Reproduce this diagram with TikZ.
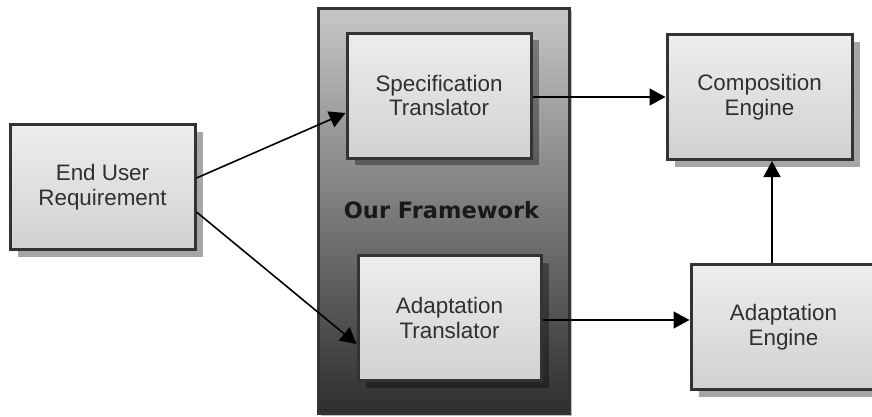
\documentclass[tikz,border=0pt]{standalone}
\usepackage{fontspec}
\setmainfont{Liberation Sans}
\newfontfamily\headfont{DejaVu Sans}
\usetikzlibrary{arrows.meta,shadows}
\definecolor{txt}{HTML}{303030}
\definecolor{edge}{HTML}{333333}
\tikzset{
  block/.style={draw=edge, line width=3pt, top color=white!93!black, bottom color=white!82!black,
    minimum width=#1, minimum height=125pt, align=center, text=txt,
    font=\fontsize{22.4}{24.5}\selectfont, inner sep=0pt,
    drop shadow={shadow xshift=8pt, shadow yshift=-7pt, fill=black, opacity=0.35}},
  block/.default=184pt,
  frame/.style={draw=edge, line width=3pt, top color=white!78!black, bottom color=white!18!black,
    minimum width=251pt, minimum height=405pt, inner sep=0pt,
    drop shadow={shadow xshift=3pt, shadow yshift=-3pt, fill=black, opacity=0.25}},
  link/.style={draw=black, line width=1.6pt, -{Triangle[length=16pt,width=17pt]}},
  title/.style={font=\headfont\bfseries\fontsize{22.5}{24}\selectfont, text=black!90}
}
\begin{document}
\begin{tikzpicture}[x=1pt,y=-1pt]
  \useasboundingbox[fill=white] (0,0) rectangle (872,416);
  % framework container
  \node[frame] (fw) at (443.5,210.5) {};
  \node[title] (fwlabel) at (441.5,210) {Our Framework};
  % components
  \node[block=185pt] (eu) at (102.5,187) {End User\\Requirement};
  \node[block] (st) at (439,95.5) {Specification\\Translator};
  \node[block=183pt] (at) at (449.5,318) {Adaptation\\Translator};
  \node[block=185pt] (ce) at (759.5,97) {Composition\\Engine};
  \node[block=185pt] (ae) at (783.5,327) {Adaptation\\Engine};
  % connectors
  \draw[link] ([yshift=9pt]eu.east) -- ([yshift=-17.5pt]st.west);
  \draw[link] ([yshift=-25pt]eu.east) -- ([yshift=-26pt]at.north west |- at.west);
  \draw[link] ([yshift=-1.5pt]st.east) -- ([yshift=-1.5pt]st.east -| ce.west);
  \draw[link] ([yshift=-2pt]at.east) -- ([yshift=-2pt]at.east -| ae.west);
  \draw[link] ([xshift=-11.5pt]ae.north) -- ([xshift=-11.5pt]ae.north |- ce.south);
\end{tikzpicture}
\end{document}
